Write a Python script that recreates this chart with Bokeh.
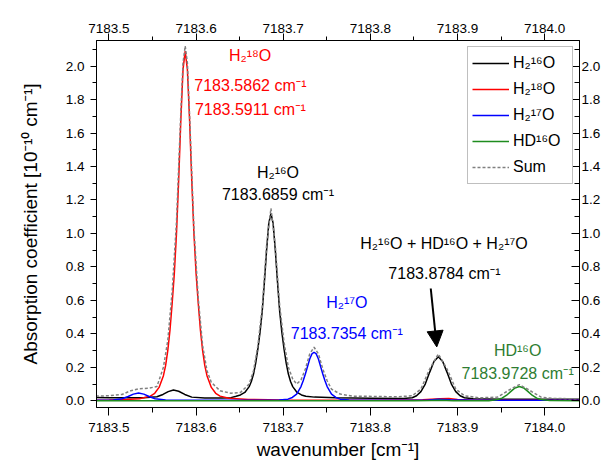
from bokeh.plotting import figure
from bokeh.models import (Range1d, LinearAxis, FixedTicker, PrintfTickFormatter,
                          Legend, LegendItem, Label, Arrow, NormalHead)
from bokeh.embed import file_html
from bokeh.resources import INLINE

FONT = "Liberation Sans, Noto Sans, DejaVu Sans"

# ---------------- data ----------------
x_ticks = [7183.5, 7183.6, 7183.7, 7183.8, 7183.9, 7184.0]
x_minor = [7183.55, 7183.65, 7183.75, 7183.85, 7183.95]
y_ticks = [0.0, 0.2, 0.4, 0.6, 0.8, 1.0, 1.2, 1.4, 1.6, 1.8, 2.0]
y_minor = [0.1, 0.3, 0.5, 0.7, 0.9, 1.1, 1.3, 1.5, 1.7, 1.9, 2.1]

# H2(16)O  (black)
x_h2_16o = [7183.485, 7183.50, 7183.52, 7183.54, 7183.555, 7183.562, 7183.568, 7183.574,
            7183.580, 7183.587, 7183.595, 7183.61, 7183.63, 7183.64, 7183.6459, 7183.6509,
            7183.6559, 7183.6609, 7183.6634, 7183.6659, 7183.6684, 7183.6709, 7183.6734,
            7183.6759, 7183.6784, 7183.6809, 7183.6834, 7183.6859, 7183.6884, 7183.6909,
            7183.6934, 7183.6959, 7183.6984, 7183.7009, 7183.7034, 7183.7059, 7183.7084,
            7183.7109, 7183.7159, 7183.7209, 7183.7259, 7183.7359, 7183.76, 7183.80,
            7183.838, 7183.848, 7183.853, 7183.858, 7183.863, 7183.868, 7183.873, 7183.878,
            7183.883, 7183.888, 7183.893, 7183.898, 7183.903, 7183.908, 7183.918, 7183.95,
            7184.00, 7184.04]
y_h2_16o = [0.020, 0.019, 0.018, 0.018, 0.024, 0.038, 0.055, 0.064,
            0.057, 0.038, 0.022, 0.017, 0.017, 0.019, 0.027, 0.035,
            0.050, 0.085, 0.115, 0.160, 0.225, 0.310, 0.410,
            0.535, 0.710, 0.900, 1.060, 1.120, 1.060, 0.900,
            0.710, 0.535, 0.410, 0.310, 0.225, 0.160, 0.115,
            0.085, 0.050, 0.035, 0.027, 0.022, 0.018, 0.016,
            0.014, 0.018, 0.030, 0.055, 0.100, 0.170, 0.235, 0.263,
            0.235, 0.170, 0.100, 0.055, 0.030, 0.018, 0.012, 0.010,
            0.009, 0.009]

# H2(18)O  (red)
x_h2_18o = [7183.485, 7183.50, 7183.52, 7183.535, 7183.5475, 7183.5525, 7183.5575, 7183.5625,
            7183.565, 7183.5675, 7183.570, 7183.5725, 7183.575, 7183.5775, 7183.580, 7183.5825,
            7183.585, 7183.5875, 7183.590, 7183.5925, 7183.595, 7183.5975, 7183.600, 7183.6025,
            7183.605, 7183.6075, 7183.610, 7183.6125, 7183.6175, 7183.6225, 7183.6275, 7183.6375,
            7183.66, 7183.70, 7183.75, 7183.80, 7183.86, 7183.88, 7183.89, 7183.90, 7183.92,
            7183.97, 7184.04]
y_h2_18o = [0.004, 0.005, 0.008, 0.012, 0.028, 0.045, 0.080, 0.150,
            0.210, 0.300, 0.420, 0.580, 0.760, 1.000, 1.320, 1.680,
            1.980, 2.090, 1.980, 1.680, 1.320, 1.000, 0.760, 0.580,
            0.420, 0.300, 0.210, 0.150, 0.080, 0.045, 0.028, 0.015,
            0.008, 0.005, 0.004, 0.004, 0.006, 0.012, 0.014, 0.008, 0.004,
            0.003, 0.003]

# H2(17)O  (blue)
x_h2_17o = [7183.485, 7183.505, 7183.515, 7183.522, 7183.528, 7183.534, 7183.540, 7183.546,
            7183.553, 7183.565, 7183.60, 7183.68, 7183.6954, 7183.7054, 7183.7104, 7183.7154,
            7183.7204, 7183.7229, 7183.7254, 7183.7279, 7183.7304, 7183.7329, 7183.7354,
            7183.7379, 7183.7404, 7183.7429, 7183.7454, 7183.7479, 7183.7504, 7183.7554,
            7183.7604, 7183.7654, 7183.7754, 7183.82, 7183.865, 7183.878, 7183.892, 7183.92,
            7184.04]
y_h2_17o = [0.004, 0.005, 0.012, 0.026, 0.040, 0.046, 0.040, 0.026,
            0.012, 0.005, 0.003, 0.003, 0.005, 0.010, 0.020, 0.040,
            0.085, 0.120, 0.160, 0.205, 0.250, 0.280, 0.290,
            0.280, 0.250, 0.205, 0.160, 0.120, 0.085, 0.040,
            0.020, 0.010, 0.005, 0.003, 0.004, 0.010, 0.006, 0.003,
            0.003]

# HD(16)O  (green)
x_hd_16o = [7183.485, 7183.85, 7183.87, 7183.88, 7183.895, 7183.936, 7183.946, 7183.951,
            7183.956, 7183.961, 7183.966, 7183.971, 7183.976, 7183.981, 7183.986, 7183.991,
            7183.996, 7184.006, 7184.04]
y_hd_16o = [0.000, 0.000, 0.002, 0.004, 0.001, 0.001, 0.008, 0.016,
            0.032, 0.055, 0.077, 0.085, 0.077, 0.055, 0.032, 0.016,
            0.008, 0.002, 0.000]

# Sum  (grey dashed)
x_sum = [7183.485, 7183.50, 7183.515, 7183.525, 7183.534, 7183.545, 7183.555, 7183.5625,
         7183.5675, 7183.5725, 7183.5775, 7183.5825, 7183.585, 7183.5875, 7183.590, 7183.5925,
         7183.5975, 7183.6025, 7183.6075, 7183.6125, 7183.6175, 7183.6275, 7183.64, 7183.6509,
         7183.6609, 7183.6659, 7183.6709, 7183.6759, 7183.6809, 7183.6859, 7183.6909, 7183.6959,
         7183.7009, 7183.7059, 7183.7109, 7183.7154, 7183.7204, 7183.7254, 7183.7304, 7183.7354,
         7183.7404, 7183.7454, 7183.7504, 7183.7554, 7183.7654, 7183.78, 7183.83, 7183.848,
         7183.858, 7183.868, 7183.878, 7183.888, 7183.898, 7183.908, 7183.925, 7183.946,
         7183.961, 7183.971, 7183.981, 7183.996, 7184.01, 7184.04]
y_sum = [0.028, 0.030, 0.038, 0.060, 0.072, 0.075, 0.085, 0.200,
         0.360, 0.650, 1.070, 1.730, 2.020, 2.120, 2.020, 1.710,
         1.030, 0.610, 0.330, 0.180, 0.110, 0.060, 0.045, 0.050,
         0.100, 0.180, 0.330, 0.560, 0.930, 1.150, 0.930, 0.570,
         0.350, 0.200, 0.130, 0.100, 0.125, 0.190, 0.280, 0.320,
         0.280, 0.190, 0.120, 0.070, 0.040, 0.028, 0.024, 0.030,
         0.070, 0.190, 0.280, 0.190, 0.070, 0.030, 0.018, 0.022,
         0.070, 0.097, 0.068, 0.022, 0.014, 0.012]

series_labels = ["H₂¹⁶O", "H₂¹⁸O", "H₂¹⁷O", "HD¹⁶O", "Sum"]

# ---------------- figure ----------------
p = figure(width=603, height=462, output_backend="svg", toolbar_location=None,
           x_range=Range1d(7183.4857, 7184.040), y_range=Range1d(-0.04, 2.153),
           min_border_left=96, min_border_right=0, min_border_top=40, min_border_bottom=0)
p.grid.visible = False
p.outline_line_color = "black"
p.outline_line_width = 1
p.background_fill_color = "white"
p.border_fill_color = "white"

xfmt = PrintfTickFormatter(format="%.1f")
yfmt = PrintfTickFormatter(format="%.1f")


def style_axis(ax, ticks, minor, fmt, tin, tout, mtin, mtout, standoff):
    ax.ticker = FixedTicker(ticks=ticks, minor_ticks=minor)
    ax.formatter = fmt
    ax.major_tick_in = tin
    ax.major_tick_out = tout
    ax.minor_tick_in = mtin
    ax.minor_tick_out = mtout
    ax.major_label_standoff = standoff
    ax.major_label_text_font = FONT
    ax.major_label_text_font_size = "13.5px"
    ax.major_label_text_color = "black"
    ax.axis_line_color = "black"
    ax.major_tick_line_color = "black"
    ax.minor_tick_line_color = "black"
    ax.axis_label_text_font = FONT
    ax.axis_label_text_font_style = "normal"
    ax.axis_label_text_font_size = "19px"
    ax.axis_label_text_color = "black"


bx = p.xaxis[0]
style_axis(bx, x_ticks, x_minor, xfmt, 0, 8, 0, 5, 7)
bx.axis_label = "wavenumber [cm⁻¹]"
bx.axis_label_standoff = 4

ly = p.yaxis[0]
style_axis(ly, y_ticks, y_minor, yfmt, 0, 6, 0, 4, 6)
ly.axis_label = "Absorption coefficient [10⁻¹⁰ cm⁻¹]"
ly.axis_label_standoff = 22

tx = LinearAxis()
style_axis(tx, x_ticks, x_minor, xfmt, 0, 7, 0, 4, 1)
p.add_layout(tx, "above")

ry = LinearAxis()
style_axis(ry, y_ticks, y_minor, yfmt, 8, 0, 5, 0, 2)
p.add_layout(ry, "right")

# ---------------- curves ----------------
r16 = p.line(x_h2_16o, y_h2_16o, line_color="black", line_width=1.5)
r18 = p.line(x_h2_18o, y_h2_18o, line_color="#ff0000", line_width=1.5)
r17 = p.line(x_h2_17o, y_h2_17o, line_color="#0000ff", line_width=1.5)
rhd = p.line(x_hd_16o, y_hd_16o, line_color="#1e8c1e", line_width=1.5)
rsum = p.line(x_sum, y_sum, line_color="#808080", line_width=1.5, line_dash="3 2")

legend = Legend(items=[LegendItem(label=lab, renderers=[r]) for lab, r in
                       zip(series_labels, [r16, r18, r17, rhd, rsum])])
legend.location = "top_right"
legend.margin = 6
legend.padding = 4
legend.spacing = 2
legend.glyph_width = 37
legend.glyph_height = 24
legend.label_height = 24
legend.label_width = 55
legend.label_standoff = 4
legend.label_text_font = FONT
legend.label_text_font_size = "16px"
legend.label_text_color = "black"
legend.border_line_color = "#7f7f7f"
legend.border_line_width = 1
legend.background_fill_color = "white"
legend.background_fill_alpha = 1.0
p.add_layout(legend)

# ---------------- annotations ----------------
annotations = [
    ("H₂¹⁸O", 7183.6620, 2.064, "#ff0000"),
    ("7183.5862 cm⁻¹", 7183.6623, 1.885, "#ff0000"),
    ("7183.5911 cm⁻¹", 7183.6623, 1.742, "#ff0000"),
    ("H₂¹⁶O", 7183.6940, 1.367, "black"),
    ("7183.6859 cm⁻¹", 7183.6940, 1.234, "black"),
    ("H₂¹⁷O", 7183.7730, 0.589, "#0000ff"),
    ("7183.7354 cm⁻¹", 7183.7730, 0.404, "#0000ff"),
    ("H₂¹⁶O + HD¹⁶O + H₂¹⁷O", 7183.8845, 0.941, "black"),
    ("7183.8784 cm⁻¹", 7183.8850, 0.762, "black"),
    ("HD¹⁶O", 7183.9690, 0.301, "#2e7d32"),
    ("7183.9728 cm⁻¹", 7183.9690, 0.166, "#2e7d32"),
]
for txt, ax_, ay_, col in annotations:
    p.add_layout(Label(x=ax_, y=ay_, text=txt, text_align="center", text_baseline="middle",
                       text_font=FONT, text_font_size="16px", text_color=col))

p.add_layout(Arrow(end=NormalHead(size=16, fill_color="black", line_color="black"),
                   x_start=7183.8693, y_start=0.671, x_end=7183.8762, y_end=0.322,
                   line_color="black", line_width=2))

open("out.html", "w").write(file_html(p, INLINE))
